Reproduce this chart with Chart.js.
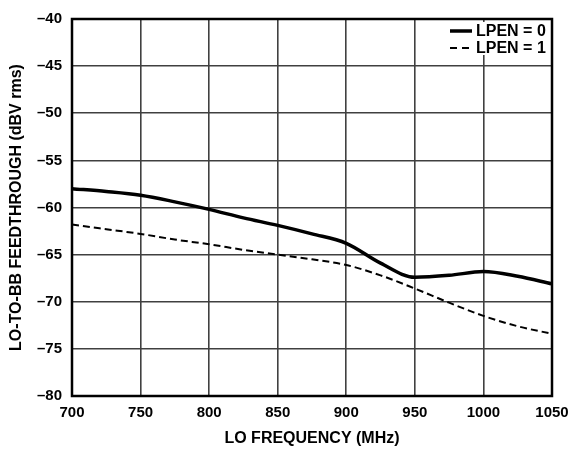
<!DOCTYPE html>
<html>
<head>
<meta charset="utf-8">
<script src="https://cdn.jsdelivr.net/npm/chart.js@4/dist/chart.umd.min.js"></script>
<style>
  html, body { margin: 0; padding: 0; background: #fff; }
  .graph { width: 574px; height: 455px; position: relative; }
</style>
</head>
<body>
<div class="graph"><canvas id="chart"></canvas></div>
<script>
// LO frequency (MHz)
let freq = [700, 725, 750, 775, 800, 825, 850, 875, 900, 925, 950, 975, 1000, 1025, 1050];
// feedthrough (dBV rms)
let lpen0 = [-58.0, -58.3, -58.7, -59.4, -60.2, -61.1, -61.9, -62.8, -63.8, -65.9, -67.4, -67.2, -66.8, -67.3, -68.1];
let lpen1 = [-61.8, -62.3, -62.8, -63.4, -63.9, -64.5, -65.0, -65.5, -66.1, -67.2, -68.6, -70.1, -71.5, -72.6, -73.4];
let labels = ["LPEN = 0", "LPEN = 1"];

let font = "'Liberation Sans', Arial, sans-serif";

function toPoints(ys) {
    return freq.map((x, i) => ({ x: x, y: ys[i] }));
}

// legend box inside the plot, top right
const insideLegend = {
    id: "insideLegend",
    afterDatasetsDraw(chart) {
        const ctx = chart.ctx;
        const a = chart.chartArea;
        ctx.save();
        ctx.fillStyle = "#fff";
        ctx.fillRect(a.right - 106, a.top + 3, 105, 33);
        ctx.font = "bold 16px " + font;
        ctx.fillStyle = "#000";
        ctx.textBaseline = "middle";
        ctx.textAlign = "left";
        let rows = [a.top + 12, a.top + 29];
        ctx.strokeStyle = "#000";
        // solid sample
        ctx.lineWidth = 3.5;
        ctx.beginPath();
        ctx.moveTo(a.right - 102, rows[0]);
        ctx.lineTo(a.right - 80, rows[0]);
        ctx.stroke();
        // dashed sample
        ctx.lineWidth = 2;
        ctx.setLineDash([7, 5]);
        ctx.beginPath();
        ctx.moveTo(a.right - 102, rows[1]);
        ctx.lineTo(a.right - 80, rows[1]);
        ctx.stroke();
        ctx.setLineDash([]);
        ctx.fillText(labels[0], a.right - 76, rows[0] + 1);
        ctx.fillText(labels[1], a.right - 76, rows[1] + 1);
        ctx.restore();
    },
    afterDraw(chart) {
        const ctx = chart.ctx;
        const a = chart.chartArea;
        ctx.save();
        ctx.strokeStyle = "#000";
        ctx.lineWidth = 2.5;
        ctx.strokeRect(a.left, a.top, a.right - a.left, a.bottom - a.top);
        ctx.restore();
    }
};

let chart = new Chart(document.getElementById("chart"), {
    type: "line",
    data: {
        datasets: [{
            label: labels[0],
            data: toPoints(lpen0),
            borderColor: "#000",
            borderWidth: 3.5,
            fill: false,
        }, {
            label: labels[1],
            data: toPoints(lpen1),
            borderColor: "#000",
            borderWidth: 2,
            borderDash: [7, 4],
            fill: false,
        }]
    },
    options: {
        responsive: true,
        maintainAspectRatio: false,
        animation: false,
        layout: { padding: { top: 13, right: 22, left: 0, bottom: 0 } },
        plugins: {
            legend: { display: false },
            tooltip: { enabled: false },
        },
        elements: {
            point: { radius: 0 },
            line: { cubicInterpolationMode: "monotone" },
        },
        scales: {
            x: {
                type: "linear",
                min: 700,
                max: 1050,
                afterFit: (s) => { s.height = 59; s.paddingRight = 0; s.paddingLeft = 0; },
                ticks: {
                    stepSize: 50,
                    color: "#000",
                    padding: 8,
                    font: { family: font, size: 15, weight: "bold" },
                    callback: (v) => String(v),
                },
                grid: { color: "#404040", lineWidth: 1.6, drawTicks: false },
                border: { display: false },
                title: {
                    display: true,
                    text: "LO FREQUENCY (MHz)",
                    color: "#000",
                    padding: { top: 0, bottom: 7 },
                    font: { family: font, size: 16, weight: "bold" },
                },
            },
            y: {
                min: -80,
                max: -40,
                afterFit: (s) => { s.width = 72; },
                ticks: {
                    stepSize: 5,
                    color: "#000",
                    padding: 10,
                    font: { family: font, size: 15, weight: "bold" },
                    callback: (v) => "\u2013" + Math.abs(v),
                },
                grid: { color: "#404040", lineWidth: 1.6, drawTicks: false },
                border: { display: false },
                title: {
                    display: true,
                    text: "LO-TO-BB FEEDTHROUGH (dBV rms)",
                    color: "#000",
                    padding: { top: 7, bottom: 0 },
                    font: { family: font, size: 16, weight: "bold" },
                },
            },
        },
    },
    plugins: [insideLegend],
});
</script>
</body>
</html>
